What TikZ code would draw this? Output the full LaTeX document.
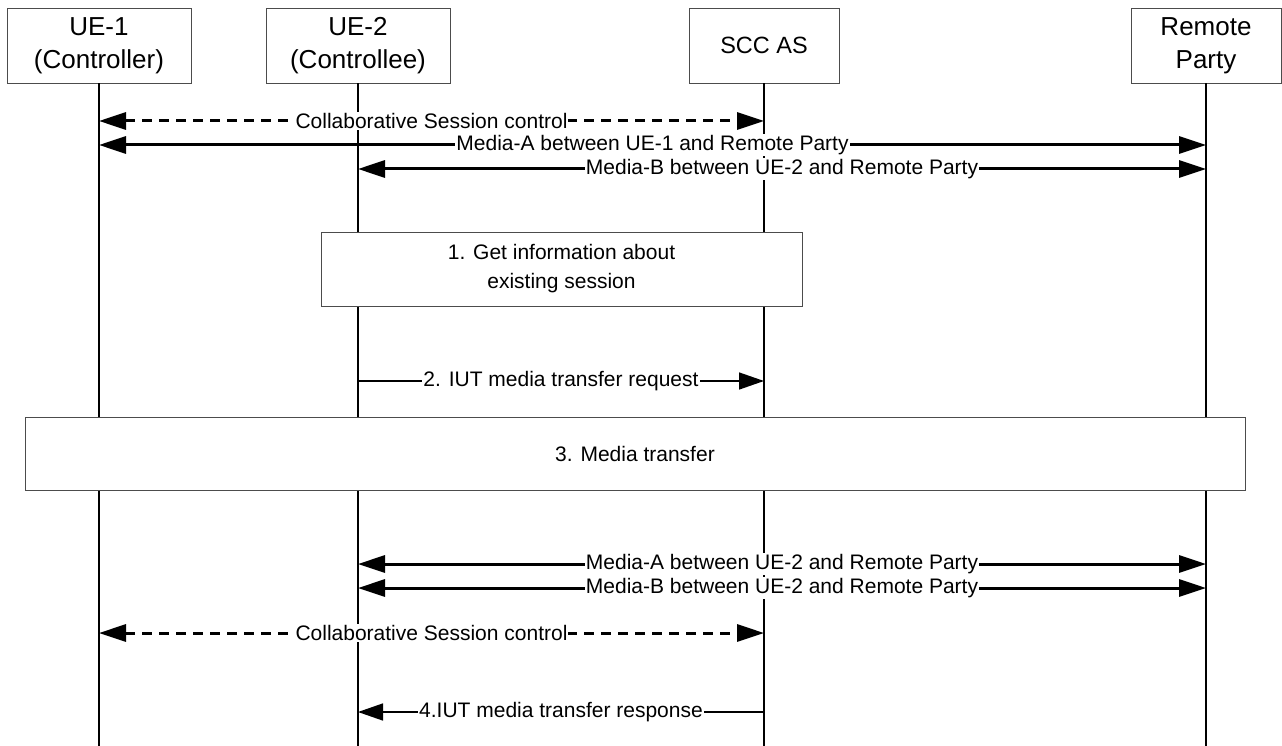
\documentclass[tikz,border=0pt]{standalone}
\usepackage{fontspec}
\setmainfont{Liberation Sans}
\usetikzlibrary{arrows.meta}
\begin{document}
\begin{tikzpicture}[x=1pt,y=-1pt,
  hdr/.style={draw=black!70, line width=0.9pt, fill=white, align=center, font=\fontsize{26}{33}\selectfont, inner sep=0pt},
  stepbox/.style={draw=black!70, line width=0.9pt, fill=white, align=center, font=\fontsize{21}{29}\selectfont, inner sep=0pt},
  life/.style={line width=1.4pt, black},
  lbl/.style={fill=white, inner sep=1pt, font=\fontsize{21}{24}\selectfont},
  media/.style={line width=3pt, {Triangle[length=27pt,width=17pt]}-{Triangle[length=27pt,width=17pt]}},
  ctrl/.style={line width=3pt, dash pattern=on 10pt off 7pt, {Triangle[length=27pt,width=17pt]}-{Triangle[length=27pt,width=17pt]}},
  msg/.style={line width=1.5pt, -{Triangle[length=25pt,width=17pt]}}
]
\useasboundingbox (0,0) rectangle (1282,746);
% header boxes
\node[hdr, minimum width=184, minimum height=75] (ue1) at (99,45.5) {UE-1\\(Controller)};
\node[hdr, minimum width=184, minimum height=75] (ue2) at (358,45.5) {UE-2\\(Controllee)};
\node[hdr, minimum width=150, minimum height=75, font=\fontsize{23.5}{30}\selectfont] (scc) at (764,45.5) {SCC AS};
\node[hdr, minimum width=150, minimum height=75] (rp) at (1206,45.5) {Remote\\Party};
\coordinate (bottom) at (0,746);
% lifelines
\draw[life] (ue1.south) -- (ue1.south |- bottom);
\draw[life] (ue2.south) -- (ue2.south |- bottom);
\draw[life] (scc.south) -- (scc.south |- bottom);
\draw[life] (rp.south) -- (rp.south |- bottom);
% row coordinates
\coordinate (r1) at (0,121);
\coordinate (r2) at (0,145);
\coordinate (r3) at (0,169);
\coordinate (r4) at (0,381);
\coordinate (r5) at (0,564);
\coordinate (r6) at (0,588);
\coordinate (r7) at (0,633);
\coordinate (r8) at (0,712);
% messages
\draw[ctrl] (ue1 |- r1) -- node[lbl] {Collaborative Session control} (scc |- r1);
\draw[media] (ue1 |- r2) -- node[lbl] {Media-A between UE-1 and Remote Party} (rp |- r2);
\draw[media] (ue2 |- r3) -- node[lbl] {Media-B between UE-2 and Remote Party} (rp |- r3);
% step 1
\node[stepbox, minimum width=481, minimum height=74] (s1) at (561.5,269) {1. Get information about\\existing session};
\draw[msg] (ue2 |- r4) -- node[lbl] {2. IUT media transfer request} (scc |- r4);
% step 3
\node[stepbox, minimum width=1220, minimum height=73] (s3) at (635,453.5) {3. Media transfer};
\draw[media] (ue2 |- r5) -- node[lbl] {Media-A between UE-2 and Remote Party} (rp |- r5);
\draw[media] (ue2 |- r6) -- node[lbl] {Media-B between UE-2 and Remote Party} (rp |- r6);
\draw[ctrl] (ue1 |- r7) -- node[lbl] {Collaborative Session control} (scc |- r7);
\draw[msg] (scc |- r8) -- node[lbl] {4.IUT media transfer response} (ue2 |- r8);
\end{tikzpicture}
\end{document}
